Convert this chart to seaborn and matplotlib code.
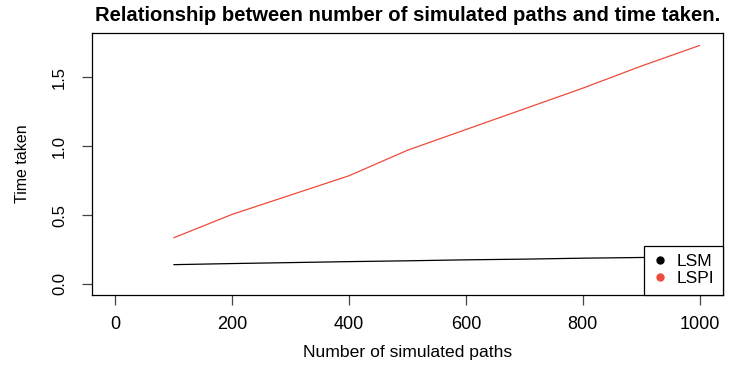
import pandas as pd
import numpy as np
import matplotlib.pyplot as plt
import seaborn as sns

# Data
paths = [100, 200, 300, 400, 500, 600, 700, 800, 900, 1000]
lsm_time = [0.140, 0.148, 0.155, 0.162, 0.168, 0.175, 0.180, 0.187, 0.192, 0.198]
lspi_time = [0.335, 0.505, 0.645, 0.785, 0.970, 1.120, 1.270, 1.420, 1.580, 1.730]
methods = ['LSM', 'LSPI']
method_colors = {'LSM': 'black', 'LSPI': '#EE4B3A'}

df = pd.DataFrame({
    'paths': paths * 2,
    'time': lsm_time + lspi_time,
    'method': ['LSM'] * len(paths) + ['LSPI'] * len(paths),
})

sns.set_style("white")
plt.rcParams['font.family'] = ['Liberation Sans', 'DejaVu Sans']
plt.rcParams['text.color'] = 'black'
plt.rcParams['axes.labelcolor'] = 'black'
plt.rcParams['xtick.labelcolor'] = 'black'
plt.rcParams['ytick.labelcolor'] = 'black'

fig = plt.figure(figsize=(7.29, 3.66), dpi=100)
ax = fig.add_axes([0.1262, 0.194, 0.8656, 0.7158])

sns.lineplot(data=df, x='paths', y='time', hue='method', palette=method_colors,
             hue_order=methods, linewidth=0.9, ax=ax, legend=False)

ax.set_xlim(-40, 1040)
ax.set_ylim(-0.08, 1.82)
ax.set_xticks([0, 200, 400, 600, 800, 1000])
ax.set_yticks([0.0, 0.5, 1.0, 1.5])
ax.set_yticklabels(['0.0', '0.5', '1.0', '1.5'], rotation=90, va='center')

for side in ['left', 'right', 'top', 'bottom']:
    ax.spines[side].set_visible(True)
    ax.spines[side].set_color('black')
    ax.spines[side].set_linewidth(0.9)

ax.tick_params(axis='both', direction='out', length=7, width=0.9, color='#444444',
               labelsize=12, labelcolor='black', bottom=True, left=True)
ax.tick_params(axis='x', labelsize=13, pad=8)
ax.tick_params(axis='y', pad=11)

ax.set_title('Relationship between number of simulated paths and time taken.',
             fontsize=14.6, fontweight='bold', pad=9, color='black')
ax.set_xlabel('Number of simulated paths', fontsize=12.6, labelpad=9)
ax.set_ylabel('Time taken', fontsize=11.5, labelpad=16)

handles = [plt.Line2D([], [], marker='o', linestyle='', color=method_colors[m],
                      markersize=5) for m in methods]
leg = ax.legend(handles, methods, loc='lower right', borderaxespad=0,
                fontsize=12.5, frameon=True, fancybox=False, handletextpad=0.5,
                handlelength=0.9, borderpad=0.5, labelspacing=0.1)
leg.get_frame().set_edgecolor('black')
leg.get_frame().set_linewidth(0.9)
leg.get_frame().set_alpha(1)

fig.savefig('out.png', dpi=100)
